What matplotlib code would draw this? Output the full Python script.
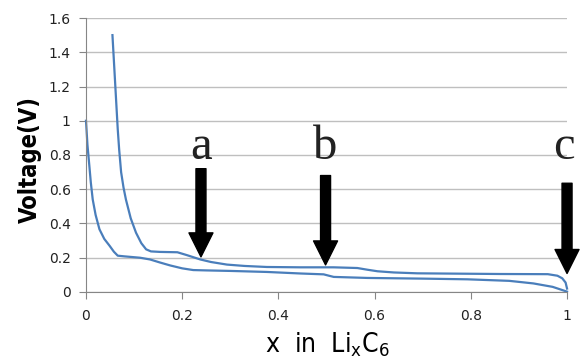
import matplotlib
matplotlib.use("Agg")
import matplotlib.pyplot as plt

# lower curve (starts at x = 0)
x_low = [0.0, 0.003, 0.007, 0.010, 0.014, 0.020, 0.028, 0.038, 0.049, 0.058, 0.066,
         0.08, 0.1125, 0.133, 0.154, 0.175, 0.2, 0.223, 0.25, 0.3, 0.376, 0.446,
         0.494, 0.505, 0.515, 0.585, 0.7, 0.793, 0.88, 0.93, 0.97, 1.0]
v_low = [1.0, 0.86, 0.736, 0.64, 0.54, 0.45, 0.366, 0.31, 0.27, 0.235, 0.212,
         0.208, 0.2, 0.19, 0.172, 0.155, 0.138, 0.128, 0.126, 0.123, 0.117, 0.108,
         0.103, 0.095, 0.088, 0.082, 0.078, 0.074, 0.065, 0.05, 0.03, 0.002]

# upper curve (starts at 1.5 V)
x_up = [0.055, 0.059, 0.063, 0.066, 0.069, 0.073, 0.078, 0.083, 0.093, 0.104, 0.115,
        0.125, 0.135, 0.154, 0.19, 0.21, 0.2375, 0.26, 0.293, 0.33, 0.376, 0.446,
        0.515, 0.564, 0.585, 0.606, 0.64, 0.689, 0.8625, 0.96, 0.98, 0.99, 0.997, 1.0]
v_up = [1.5, 1.3, 1.1, 0.95, 0.83, 0.70, 0.61, 0.54, 0.43, 0.346, 0.285,
        0.249, 0.237, 0.234, 0.232, 0.215, 0.19, 0.175, 0.16, 0.152, 0.146, 0.144,
        0.144, 0.14, 0.13, 0.121, 0.114, 0.109, 0.105, 0.104, 0.095, 0.08, 0.055, 0.02]

xticks = [0, 0.2, 0.4, 0.6, 0.8, 1]
xtick_labels = ["0", "0.2", "0.4", "0.6", "0.8", "1"]
yticks = [0, 0.2, 0.4, 0.6, 0.8, 1.0, 1.2, 1.4, 1.6]
ytick_labels = ["0", "0.2", "0.4", "0.6", "0.8", "1", "1.2", "1.4", "1.6"]

# arrow markers: label, x, top of shaft, tip
marks = ["a", "b", "c"]
mark_x = [0.239, 0.498, 1.0]
mark_top = [0.72, 0.68, 0.635]
mark_tip = [0.205, 0.158, 0.108]
label_x = [0.239, 0.498, 0.994]
label_y = 0.775

line_color = "#4a7ebb"
grid_color = "#bfbfbf"

fig = plt.figure(figsize=(5.87, 3.58), dpi=100)
ax = fig.add_axes([0.1465, 0.1844, 0.8195, 0.7653])

ax.plot(x_low, v_low, color=line_color, lw=1.6, clip_on=False)
ax.plot(x_up, v_up, color=line_color, lw=1.6, clip_on=False)

ax.set_xlim(0, 1)
ax.set_ylim(0, 1.6)
ax.set_xticks(xticks)
ax.set_xticklabels(xtick_labels)
ax.set_yticks(yticks)
ax.set_yticklabels(ytick_labels)
ax.tick_params(labelsize=10, colors="#222222", length=5, color="#868686", pad=6)
ax.tick_params(axis="x", pad=7)

ax.grid(axis="y", color=grid_color, lw=1)
ax.set_axisbelow(True)
for s in ["top", "right"]:
    ax.spines[s].set_visible(False)
for s in ["left", "bottom"]:
    ax.spines[s].set_color("#868686")

for lab, xm, top, tip, lx in zip(marks, mark_x, mark_top, mark_tip, label_x):
    ax.annotate("", xy=(xm, tip), xytext=(xm, top),
                arrowprops=dict(arrowstyle="simple,head_width=2.4,head_length=2.4,tail_width=1.0",
                                fc="black", ec="black", mutation_scale=7.2,
                                shrinkA=0, shrinkB=0),
                annotation_clip=False)
    ax.text(lx, label_y, lab, ha="center", va="baseline", fontsize=35,
            family="Liberation Serif", color="#222222")

ax.set_ylabel("Voltage(V)", fontsize=17, fontweight="bold",
              family="DejaVu Sans", fontstretch="condensed", va="center")
ax.yaxis.set_label_coords(-0.117, 0.485)
ax.set_xlabel(r"x  in  Li$_\mathregular{x}$C$_\mathregular{6}$", fontsize=19,
              family="DejaVu Sans", fontstretch="condensed", va="baseline")
ax.xaxis.set_label_coords(0.501, -0.222)

fig.savefig("out.png", dpi=100)
